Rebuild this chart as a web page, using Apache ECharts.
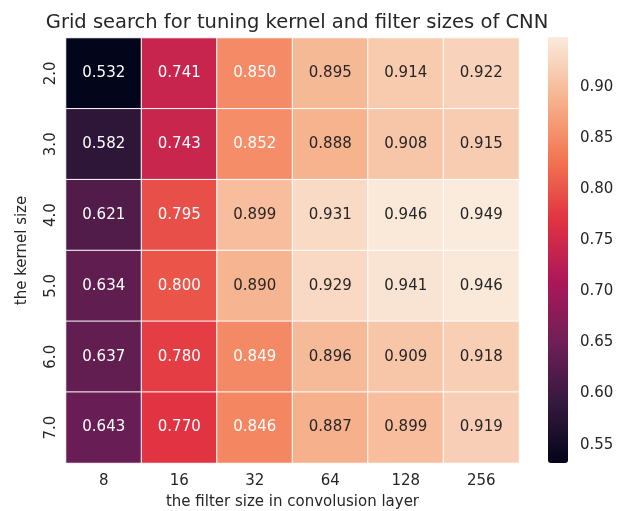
<!DOCTYPE html>
<html lang="en">
  <head>
    <meta charset="UTF-8" />
    <title>Grid search heatmap</title>
    <style>
      html, body { margin: 0; padding: 0; background: #fff; }
      #container { width: 625px; height: 511px; }
    </style>
    <script src="https://cdn.jsdelivr.net/npm/echarts@6/dist/echarts.min.js"></script>
  </head>
  <body>
    <div id="container"></div>
    <script>
      const filterSizes = ['8', '16', '32', '64', '128', '256']
      const kernelSizes = ['2.0', '3.0', '4.0', '5.0', '6.0', '7.0']
      // one row per kernel size, columns follow filterSizes
      const kernel2 = [0.532, 0.741, 0.85, 0.895, 0.914, 0.922]
      const kernel3 = [0.582, 0.743, 0.852, 0.888, 0.908, 0.915]
      const kernel4 = [0.621, 0.795, 0.899, 0.931, 0.946, 0.949]
      const kernel5 = [0.634, 0.8, 0.89, 0.929, 0.941, 0.946]
      const kernel6 = [0.637, 0.78, 0.849, 0.896, 0.909, 0.918]
      const kernel7 = [0.643, 0.77, 0.846, 0.887, 0.899, 0.919]
      const colorbarTicks = [0.55, 0.6, 0.65, 0.7, 0.75, 0.8, 0.85, 0.9]

      const rows = [kernel2, kernel3, kernel4, kernel5, kernel6, kernel7]
      const data = []
      rows.forEach((row, y) => {
        row.forEach((v, x) => data.push([x, y, v]))
      })
      const vmin = 0.532
      const vmax = 0.949
      const font = 'DejaVu Sans'
      const txt = '#262626'
      const fs = 15

      const chart = echarts.init(document.getElementById('container'))
      chart.setOption({
        animation: false,
        textStyle: { fontFamily: font },
        title: {
          text: 'Grid search for tuning kernel and filter sizes of CNN',
          left: 292,
          top: 8,
          textAlign: 'center',
          textStyle: { fontFamily: font, fontSize: 19.5, fontWeight: 'normal', color: txt },
        },
        grid: [
          { left: 66, top: 38, width: 453, height: 425, outerBoundsMode: 'none' },
          { left: 548, top: 37, width: 20, height: 426, outerBoundsMode: 'none' },
        ],
        xAxis: [
          {
            type: 'category',
            data: filterSizes,
            axisLine: { show: false },
            axisTick: { alignWithLabel: true, length: 5, lineStyle: { color: txt } },
            axisLabel: { fontSize: fs, color: txt, margin: 11 },
            splitLine: { show: false },
            name: 'the filter size in convolusion layer',
            nameLocation: 'middle',
            nameGap: 32,
            nameTextStyle: { fontSize: fs, color: txt },
          },
          { gridIndex: 1, type: 'value', show: false, min: 0, max: 1 },
        ],
        yAxis: [
          {
            type: 'category',
            data: kernelSizes,
            inverse: true,
            axisLine: { show: false },
            axisTick: { alignWithLabel: true, length: 5, lineStyle: { color: txt } },
            axisLabel: { fontSize: fs, color: txt, rotate: 90, margin: 7 },
            splitLine: { show: false },
            name: 'the kernel size',
            nameLocation: 'middle',
            nameGap: 36,
            nameTextStyle: { fontSize: fs, color: txt },
          },
          {
            gridIndex: 1,
            type: 'value',
            min: vmin,
            max: vmax,
            position: 'right',
            axisLine: { show: false },
            splitLine: { show: false },
            axisTick: { show: true, customValues: colorbarTicks, length: 5, lineStyle: { color: txt } },
            axisLabel: {
              customValues: colorbarTicks,
              fontSize: fs,
              color: txt,
              margin: 12,
              formatter: (v) => v.toFixed(2),
            },
          },
        ],
        visualMap: {
          type: 'continuous',
          min: vmin,
          max: vmax,
          seriesIndex: 0,
          calculable: false,
          orient: 'vertical',
          left: 548,
          top: 37,
          itemWidth: 20,
          itemHeight: 426,
          padding: 0,
          text: null,
          inRange: {
            color: ['#03051a', '#35193e', '#701f57', '#ad1759', '#e13342', '#f37651', '#f6b48f', '#faebdd'],
          },
        },
        series: [
          {
            type: 'heatmap',
            data: data.map((d) => ({
              value: d,
              // dark annotation text on light cells, as seaborn does
              label: { color: d[2] > 0.87 ? txt : '#fff' },
            })),
            itemStyle: { borderColor: '#fff', borderWidth: 1 },
            label: {
              show: true,
              fontSize: fs,
              fontFamily: font,
              formatter: (p) => p.value[2].toFixed(3),
            },
            emphasis: { disabled: true },
          },
        ],
      })
    </script>
  </body>
</html>
